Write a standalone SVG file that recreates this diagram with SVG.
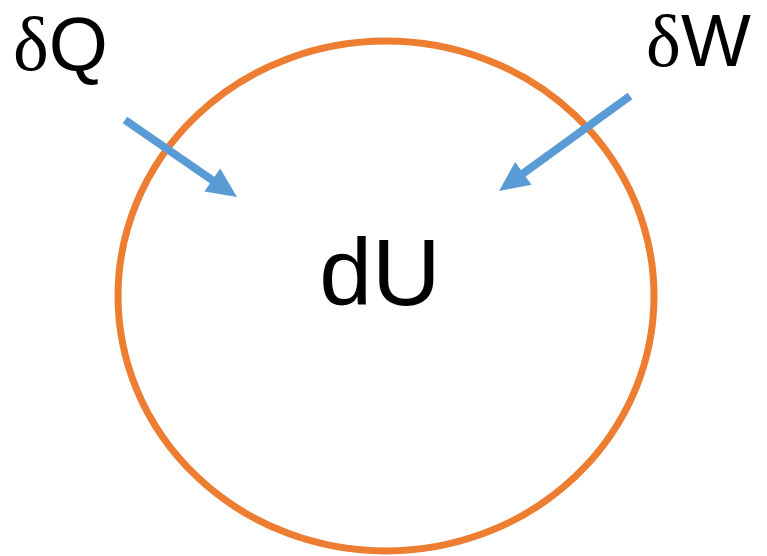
<svg xmlns="http://www.w3.org/2000/svg" width="767" height="556" viewBox="0 0 767 556">
<style>
.lbl{font-family:"Liberation Sans",Arial,sans-serif;fill:#000}
.shaft{stroke:#5B9BD5;stroke-width:8;fill:none}
.head{fill:#5B9BD5}
</style>
<rect width="767" height="556" fill="#fff"/>
<g id="system">
<ellipse cx="386" cy="296" rx="268" ry="255" fill="none" stroke="#ED7D31" stroke-width="7"/>
<text class="lbl" x="380" y="305" font-size="95" text-anchor="middle">dU</text>
</g>
<g id="heat">
<text class="lbl" x="13" y="70" font-size="76"><tspan font-family="Liberation Serif,serif">δ</tspan>Q</text>
</g>
<g id="work">
<text class="lbl" x="646" y="66" font-size="74"><tspan font-family="Liberation Serif,serif">δ</tspan>W</text>
</g>
<g id="connectors">
<line class="shaft" x1="125" y1="120" x2="215" y2="182"/>
<polygon class="head" points="237,197 204.4,191.5 220.2,168.5"/>
<line class="shaft" x1="630" y1="96" x2="521" y2="175"/>
<polygon class="head" points="499,191 531.5,184.7 515.1,162.1"/>
</g>
</svg>
